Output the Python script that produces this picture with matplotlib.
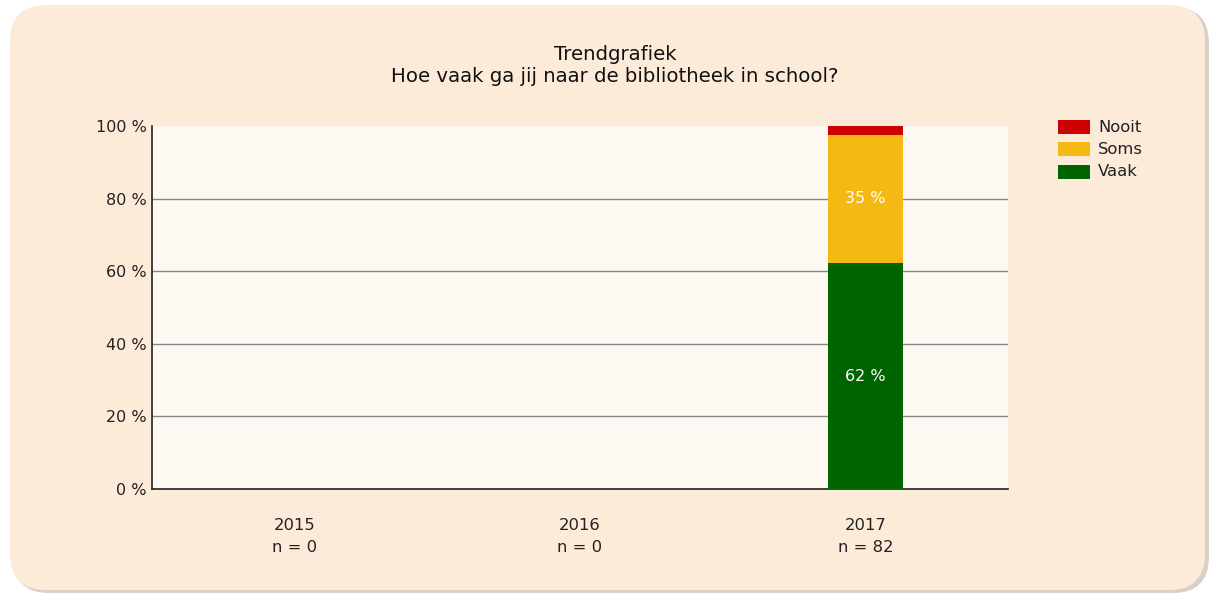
import matplotlib
matplotlib.use("Agg")
import matplotlib.pyplot as plt
from matplotlib.patches import FancyBboxPatch, Rectangle
import numpy as np

years = ["2015", "2016", "2017"]
n_values = [0, 0, 82]
series = ["Vaak", "Soms", "Nooit"]
vaak = [0.0, 0.0, 62.2]
soms = [0.0, 0.0, 35.4]
nooit = [0.0, 0.0, 2.4]
colors = {"Vaak": "#006400", "Soms": "#F5B914", "Nooit": "#CC0000"}
title = "Trendgrafiek\nHoe vaak ga jij naar de bibliotheek in school?"

W, H = 1209, 593
fig = plt.figure(figsize=(W / 100, H / 100), dpi=100)
fig.patch.set_facecolor("white")

# background box with shadow
shadow = FancyBboxPatch((13 / W, 1 - 593 / H), (1196) / W, (586) / H,
                        boxstyle="round,pad=0,rounding_size=0.03",
                        transform=fig.transFigure, facecolor="#d9d0c8",
                        edgecolor="none", mutation_aspect=W / H, zorder=-10)
box = FancyBboxPatch((10 / W, 1 - 590 / H), (1195) / W, (585) / H,
                     boxstyle="round,pad=0,rounding_size=0.03",
                     transform=fig.transFigure, facecolor="#FDEBD9",
                     edgecolor="none", mutation_aspect=W / H, zorder=-9)
fig.patches.extend([shadow, box])

ax = fig.add_axes([152 / W, (H - 489) / H, (1008 - 152) / W, (489 - 126) / H])
ax.set_zorder(5)
ax.set_facecolor("#FEF8F3")

x = np.arange(len(years))
bw = 0.263
bottom = np.zeros(len(years))
data = {"Vaak": vaak, "Soms": soms, "Nooit": nooit}
for name in series:
    vals = np.array(data[name])
    ax.bar(x, vals, bw, bottom=bottom, color=colors[name], zorder=3)
    for xi, v, b in zip(x, vals, bottom):
        if v >= 5:
            ax.text(xi, b + v / 2, f"{round(v)} %", ha="center", va="center",
                    color="white", fontsize=11.5, zorder=4)
    bottom += vals

ax.set_xlim(-0.5, 2.5)
ax.set_ylim(0, 100)
ax.set_yticks([0, 20, 40, 60, 80, 100])
ax.set_yticklabels([f"{t} %" for t in [0, 20, 40, 60, 80, 100]], fontsize=11.5,
                   color="#222222")
ax.set_xticks(x)
ax.set_xticklabels([f"{y}\nn = {n}" for y, n in zip(years, n_values)],
                   fontsize=11.8, linespacing=1.55, color="#222222")
ax.tick_params(axis="x", length=0, pad=21)
ax.tick_params(axis="y", length=0, pad=4)
for yv in [20, 40, 60, 80]:
    ax.axhline(yv, color="#888888", lw=1.0, zorder=2)
for s in ["top", "right"]:
    ax.spines[s].set_visible(False)
ax.spines["left"].set_color("#222222")
ax.spines["bottom"].set_color("#222222")
ax.spines["left"].set_linewidth(1.2)
ax.spines["bottom"].set_linewidth(1.2)

fig.text(615 / W, 1 - 65.5 / H, title, ha="center", va="center",
         fontsize=14.2, linespacing=1.15, color="#111111")

# legend
for i, name in enumerate(["Nooit", "Soms", "Vaak"]):
    ytop = 120 + i * 22.5
    fig.patches.append(Rectangle((1058 / W, 1 - (ytop + 14) / H), 32 / W, 14 / H,
                                 transform=fig.transFigure,
                                 facecolor=colors[name], edgecolor="none"))
    fig.text(1098 / W, 1 - (ytop + 7) / H, name, ha="left", va="center",
             fontsize=11.8, color="#222222")

fig.savefig("out.png", dpi=100, facecolor=fig.get_facecolor())
